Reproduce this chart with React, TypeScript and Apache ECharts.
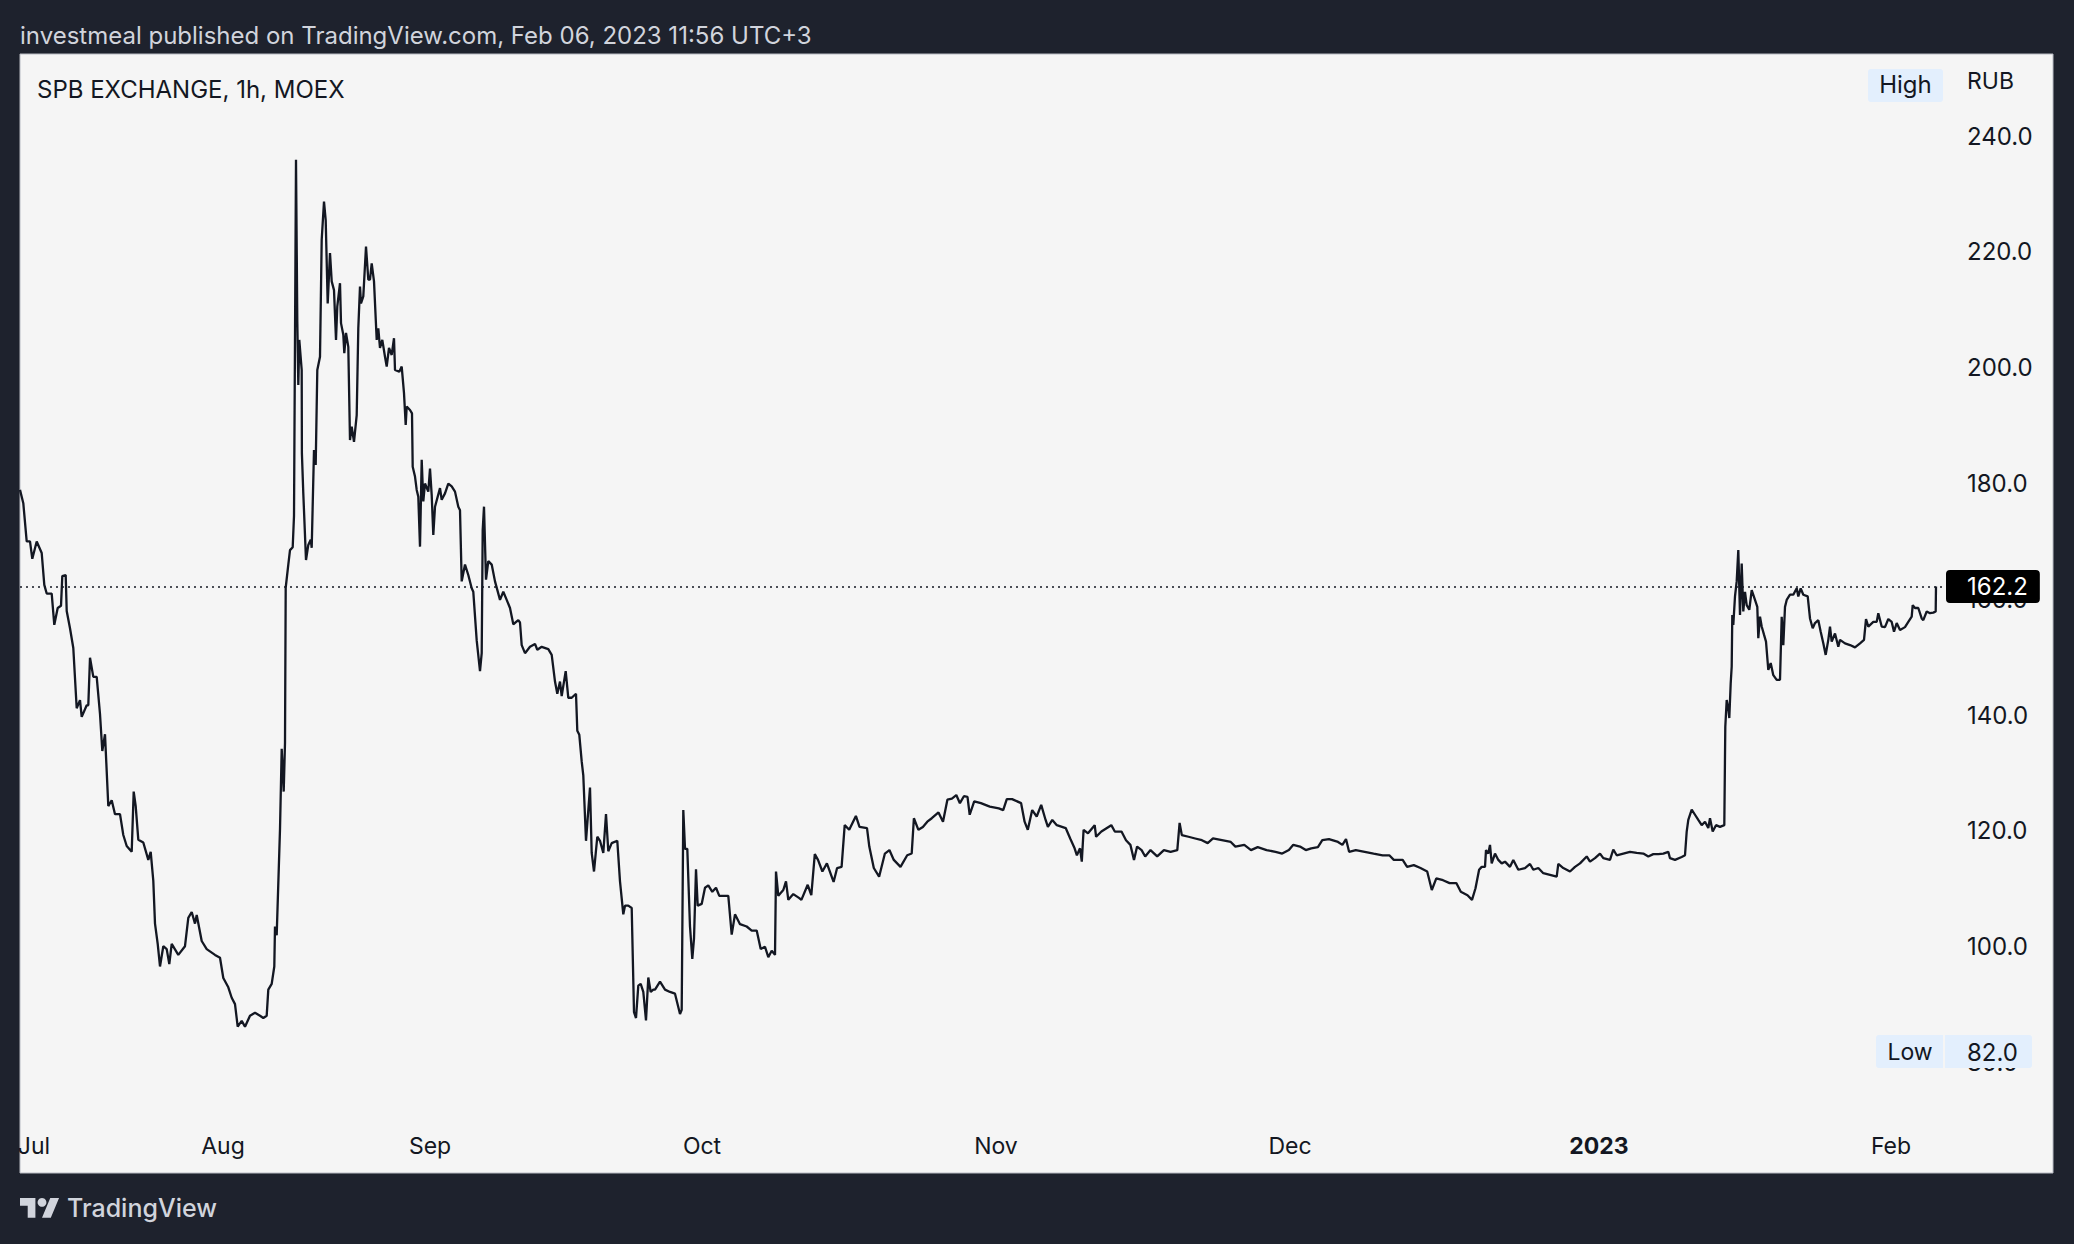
import React, { useEffect, useRef } from "react";
import * as echarts from "echarts";

// ---- data: [hour index, close price in RUB] ----
const JUL_PRICES: [number, number][] = [
  [0,178.9],[3.3,176.6],[6.7,170],[10,170],[12.3,167],[16.7,170],[21.7,168],[24.3,162.5],[26.7,161],[31.7,161],[34.3,155.6],[37.7,158.5],[41,158.9],[42.3,164],[45.7,164.2],[46.7,158],[50,155],[53.3,151.6],[56.7,141.2],[60,142.6],[61.7,139.7],[66.7,141.7],[68.3,141.7],[70,149.9],[73.3,146.6],[76.7,146.6],[80,140.2],[82.3,133.8],[85,136.7],[88.3,124.3],[91.7,125.3],[95,122.9],[100,122.9],[103.3,119.3],[106.7,117.4],[111.7,116.4],[113.7,126.8],[115.7,124.3],[118.3,118.5],[123.3,118],[128.3,115],[130.7,116.4],[133.3,111.4],[135,104],[137.7,100.5],[140,96.6],[143.3,100.1],[146.7,99.6],[149.3,97],[151.7,100.5],[158.3,98.6],[165,100.1],[168.3,105],[171.7,106],[175,104],[176.7,105.5],[181.7,101],[186.7,99.6],[195,98.6],[200,98.1]
];
const AUG_PRICES: [number, number][] = [
  [203.3,94.6],[208.3,93],[211.7,91.2],[215,90.1],[217.7,86.2],[221.7,87.2],[225,86.2],[230,88.1],[235,88.6],[240,88.1],[243.3,87.7],[246.7,88.1],[248.3,92.6],[251.7,93.6],[254.3,96.6],[255,103.5],[256.7,102],[260,120.3],[261.7,134.2],[263.7,126.8],[265,135.2],[265.7,162],[268.3,166],[270,168.5],[272.7,169],[274,174.4],[276,235.9],[277.3,208],[278.3,197],[279.3,204.8],[281.7,199.6],[281.9,185.2],[283.3,178.3],[286,166.8],[288.3,169.4],[290.7,170.3],[291.7,168.9],[294,185.8],[295.7,183.2],[297.3,199.6],[300,201.9],[301.7,222.1],[304,228.7],[305.7,225.5],[307.7,211.1],[310,219.8],[311.7,214.9],[314,213.4],[316,204.8],[317.3,210.6],[320,214.6],[321,207.7],[323.3,205.7],[324.3,202.5],[326,206],[328.3,203.6],[330,187.5],[331.7,189.8],[334,187.2],[336.7,191.8],[338.3,206.8],[340,214],[341,211.1],[343.3,212.3],[346,220.9],[348.3,215.2],[350,215.2],[351.7,218],[354,214.9],[356.7,204.8],[358.3,206.8],[360,203.4],[362.3,204.8],[365,201.9],[366.7,200.2],[369,203.4],[371.7,202.2],[374,205.1],[375,199.6],[379.3,199.3],[381.7,200.2],[384,195.6],[385.7,190.1],[386.7,193.3],[390,192.7],[392,192.1],[392.7,182.9],[395,181.2],[396.7,178.9],[398.3,177.7],[400,169.1],[401.7,184.1],[403.3,176.9],[405,180],[408.3,178.6]
];
const SEP_PRICES: [number, number][] = [
  [410,182.6],[411.7,178],[413.3,171.1],[415,176],[420,179.2],[421.7,177.2],[425,178.3],[428.3,180],[431.7,179.5],[435,178.6],[438.3,176],[440,175.4],[441.7,163.1],[445,166],[448.3,164.2],[451.7,161.9],[453.3,161.3],[456.7,152.9],[460,147.6],[461.7,150.7],[462.7,171.9],[464,176],[466,163.4],[468.3,166.6],[471.7,166],[475,163.1],[480,159.9],[483.3,161.3],[486.7,159.9],[490,158.5],[493.3,155.7],[498.3,156.4],[500,156],[501.7,152.1],[505,150.7],[510,151.8],[515,152.3],[517.3,151.3],[521.7,151.8],[528.3,151.4],[531.7,150.4],[535,145.8],[537.3,143.7],[540,145.8],[541.7,143.3],[544,145.8],[545.7,147.6],[548.3,143],[551.7,143],[556,143.7],[557.3,137.3],[559.3,136.6],[561.7,132],[563.3,129.6],[564.3,125.4],[566,118.3],[570,127.5],[571.7,116.2],[574,113],[577.3,119],[580,118.3],[583.3,116.2],[586,122.9],[588.3,116.5],[591.7,117.9],[597.3,118.3],[600,111.3],[603.3,105.6],[605,107.1],[608.3,107.1],[611.7,106.7],[614,88.7],[616,87.7],[618.3,93.3],[620.7,93.6],[623.3,92.2],[626,87.3],[628.3,94.7],[630.7,92.2],[633.3,92.6],[635,92.6],[640,94],[645,92.6],[650,92.2],[655,91.9],[660,88.4],[661.7,89.1],[663.3,123.6],[665,116.9],[667.3,116.9],[670,103.5],[672.3,97.9],[674,101.4],[676,113.4],[677.7,107.1],[681.7,107.4]
];
const OCT_PRICES: [number, number][] = [
  [685,110.2],[688.3,110.6],[692.3,109.5],[696,110.2],[699.3,108.8],[708.3,108.8],[711.7,102.1],[715,105.6],[720,103.9],[726.7,103.5],[731.7,102.8],[736.7,102.8],[740.7,99.6],[745,100],[748.3,98.2],[751.7,99.3],[755,98.6],[756,113],[758.3,108.8],[763.3,109.8],[766,111.3],[768.3,108.1],[773.3,109.1],[779.3,108.4],[781.4,108.1],[787.7,110.7],[791.3,108.9],[794.8,116],[798,115],[802.4,113],[806.9,114.4],[813.6,111.2],[817.1,113.6],[821.6,113.8],[824.7,121],[829.2,120.2],[835.9,122.6],[839.5,120.7],[847,120.5],[849.3,117.3],[853.8,113.6],[859.1,112.1],[864.9,116.1],[869.4,116.7],[873.8,115],[880.5,113.8],[887.2,115.8],[891.7,116.1],[893.9,122.2],[898.4,120.2],[902.9,120.7],[907.3,121.6],[911.8,122.2],[918.5,123.2],[923,121.6],[927.4,125.4],[931.9,125.6],[936.3,126.2],[939.9,124.8],[943.9,126],[947.5,125.9],[949.7,122.8],[954.2,125.1],[960.9,124.8],[969.8,124.2]
];
const NOV_PRICES: [number, number][] = [
  [978.8,123.9],[983.2,123.6],[986.8,125.5],[992.1,125.5],[1001.1,124.8],[1004.6,121.6],[1007.8,120.2],[1012.2,123.6],[1016.7,122.5],[1021.2,124.5],[1025.6,121.9],[1027.9,120.7],[1032.3,121.9],[1036.8,121],[1045.7,120.5],[1050.2,118.7],[1054.6,117],[1056.9,115.8],[1060,117],[1061.8,114.7],[1063.6,120.2],[1068,119.6],[1074.7,121],[1076.1,119],[1081.4,119.9],[1091.3,121],[1094.8,119.9],[1101.5,119.9],[1106,118.4],[1110.4,117.6],[1114,115],[1117.1,117.3],[1121.6,116.7],[1125.2,115.6],[1130.5,116.7],[1137.2,115.6],[1143.9,116.7],[1150.6,116.4],[1157.3,116.7],[1159.6,121.4],[1161.8,119.3],[1168.5,119],[1175.2,118.7],[1181.9,118.4],[1187.7,117.9],[1193,118.7],[1201.9,118.4],[1210.8,118.1],[1215.4,117.3],[1224.3,117.6],[1231,116.7],[1237.7,117.2],[1246.6,116.7],[1255.5,116.4],[1262.2,116.1],[1268.9,116.7]
];
const DEC_PRICES: [number, number][] = [
  [1273.3,117.6],[1280,117.3],[1285.8,116.7],[1291.2,117],[1297.9,117.2],[1302.3,118.4],[1309,118.6],[1318,118.1],[1322.4,117.6],[1326,118.6],[1329.1,116.4],[1335.8,116.7],[1344.7,116.4],[1353.6,116.1],[1362.6,115.8],[1369.3,115.8],[1373.8,115],[1382.7,115],[1387.1,113.8],[1393.8,114.1],[1400.5,113.6],[1407.2,113],[1411.8,109.8],[1416.3,111.8],[1423,111.5],[1429.6,111],[1436.3,111],[1440.8,109.5],[1447.5,108.9],[1452,108.1],[1455.5,110.1],[1459.1,113.3],[1461.7,113.8],[1465,113.8],[1466,116.7],[1468.3,116.1],[1470,117.6],[1471.7,114.4],[1475,116.1],[1478.3,115],[1481.7,114.4],[1485,114.7],[1490,113.8],[1493.3,115],[1498.3,113.3],[1505,113.6],[1510,114.3],[1513.3,113.3],[1518.3,113.6],[1523.3,112.7],[1530,112.4],[1536.7,112.1],[1538.3,114.3],[1543.3,113.6],[1550,113],[1555,113.8],[1560,114.4],[1566.7,115.6],[1570,114.7],[1575,115.3]
];
const JAN_PRICES: [number, number][] = [
  [1580,116.1],[1583.3,115.3],[1590,115],[1593.3,116.8],[1596.7,115.8],[1603.3,116.1],[1610,116.4],[1616.7,116.2],[1623.3,116.1],[1628.3,115.6],[1633.3,116],[1638.3,116],[1643.3,116.1],[1648.3,116.4],[1650,115.3],[1655,115],[1661.7,115.5],[1665,115.8],[1666.7,119.9],[1668.3,121.9],[1671.7,123.7],[1675,122.8],[1678.3,121.9],[1681.7,121],[1685,121.6],[1688.3,120.5],[1690,122.2],[1692.7,119.9],[1696,121],[1700,120.7],[1704.3,121],[1705.3,138],[1706.7,142.6],[1708.3,141.2],[1709.3,139.5],[1710.7,145.5],[1711.7,148.4],[1712.3,157.3],[1713.3,155.6],[1715,160.5],[1716.7,163.1],[1718.3,168.5],[1720,157.3],[1721.7,166.2],[1723.3,157.9],[1725,161.3],[1726.7,159],[1729.3,158.2],[1731.7,161.6],[1735,159.9],[1737.3,158.7],[1738.3,153.3],[1740,157],[1741.7,155.3],[1744,153.9],[1746,152.7],[1748.3,147.8],[1750.7,149],[1753.3,146.9],[1756.7,146.1],[1760,146.1],[1761.7,157],[1763.3,152.1],[1765,158.7],[1766.7,159.9],[1770,160.8],[1773.3,160.8],[1776.7,161.9],[1778.3,160.5],[1780.7,161.9],[1783.3,160.8],[1787.7,160.5],[1790,156.7],[1792.7,155],[1795,155.9],[1798.3,156.4],[1800.7,154.4],[1803.3,152.4],[1805.7,150.4],[1808.3,153],[1810,155.3],[1811.7,152.7],[1815,154.1],[1818.3,151.8],[1820,153],[1825,152.4],[1830,152.1],[1835,151.7],[1840,152.4],[1844,153],[1846,156.6],[1848.3,155.3],[1853.3,156.1],[1856.7,156.1],[1858.3,157.6],[1861.7,155.3],[1865,155.2],[1868.3,156.6]
];
const FEB_PRICES: [number, number][] = [
  [1871.7,156.1],[1874,154.4],[1876.7,155.9],[1880,154.7],[1885,155.2],[1888.3,156.1],[1891.7,157],[1892.7,159],[1895,158.5],[1898.3,158.5],[1901.7,156.7],[1903.3,156.4],[1906.7,157.9],[1910,157.6],[1913.3,157.7],[1915.7,157.9],[1916,162.2]
];

const MONTH_TICKS = [14, 203, 410, 682, 976, 1270, 1579, 1871];
const MONTH_LABELS = ["Jul", "Aug", "Sep", "Oct", "Nov", "Dec", "2023", "Feb"];
const PRICE_TICKS = [80, 100, 120, 140, 160, 180, 200, 220, 240];
const LOW_VALUE = 82.0;

const TITLE = "investmeal published on TradingView.com, Feb 06, 2023 11:56 UTC+3";
const SYMBOL = "SPB EXCHANGE, 1h, MOEX";

const SERIES = [
  ...JUL_PRICES, ...AUG_PRICES, ...SEP_PRICES, ...OCT_PRICES,
  ...NOV_PRICES, ...DEC_PRICES, ...JAN_PRICES, ...FEB_PRICES,
];
const LAST_PRICE = SERIES[SERIES.length - 1][1];

const FONT = "Inter, 'Noto Sans', sans-serif";
const INK = "#131722";
const BADGE = "#e3effd";

echarts.graphic.registerShape(
  "tvLogo",
  echarts.graphic.extendPath("M14 22H7V11H0V4h14v18zM28 22h-8l7.5-18h8L28 22z", {})
);

export default function App() {
  const ref = useRef<HTMLDivElement>(null);
  useEffect(() => {
    document.body.style.margin = "0";
    const chart = echarts.init(ref.current!, null, { renderer: "svg" });
    chart.setOption({
      animation: false,
      backgroundColor: "#1e222d",
      textStyle: { fontFamily: FONT },
      grid: { left: 20, top: 55, width: 1924, bottom: 123.5, containLabel: false },
      xAxis: {
        type: "value",
        min: 0,
        max: 1924,
        axisLine: { show: false },
        axisTick: { show: false },
        splitLine: { show: false },
        axisLabel: {
          customValues: MONTH_TICKS,
          margin: 14,
          fontSize: 23,
          color: INK,
          fontFamily: FONT,
          formatter: (v: number) => {
            const i = MONTH_TICKS.indexOf(v);
            const s = i >= 0 ? MONTH_LABELS[i] : "";
            return /^\d{4}$/.test(s) ? `{b|${s}}` : s;
          },
          rich: { b: { fontWeight: "bold", fontSize: 23, color: INK, fontFamily: FONT } },
        },
      },
      yAxis: {
        type: "value",
        position: "right",
        min: 70,
        max: 254,
        axisLine: { show: false },
        axisTick: { show: false },
        splitLine: { show: false },
        axisLabel: {
          customValues: PRICE_TICKS,
          margin: 23,
          fontSize: 24,
          color: INK,
          fontFamily: FONT,
          formatter: (v: number) => v.toFixed(1),
        },
      },
      series: [
        {
          type: "line",
          data: SERIES,
          showSymbol: false,
          lineStyle: { color: INK, width: 2.3 },
          z: 5,
          markLine: {
            silent: true,
            symbol: ["none", "none"],
            lineStyle: { color: INK, type: [2, 4], width: 1.5 },
            label: {
              show: true,
              position: "end",
              distance: 2,
              formatter: () => LAST_PRICE.toFixed(1),
              backgroundColor: "#000000",
              color: "#ffffff",
              fontSize: 24,
              fontFamily: FONT,
              lineHeight: 24,
              padding: [5, 12, 4, 21],
              borderRadius: 4,
            },
            data: [{ yAxis: LAST_PRICE }],
          },
        },
      ],
      graphic: [
        {
          type: "rect",
          z: -10,
          silent: true,
          shape: { x: 20, y: 54, width: 2033, height: 1119 },
          style: { fill: "#f5f5f5", stroke: "#b8bbc3", lineWidth: 1 },
        },
        {
          type: "text",
          x: 20,
          y: 35,
          style: { text: TITLE, fill: "#d1d4dc", fontSize: 24, fontFamily: FONT, verticalAlign: "middle" },
        },
        {
          type: "text",
          x: 37,
          y: 89,
          style: { text: SYMBOL, fill: INK, fontSize: 24, fontFamily: FONT, verticalAlign: "middle" },
        },
        {
          type: "rect",
          z: 100,
          shape: { x: 1868, y: 69, width: 75, height: 33, r: 3 },
          style: { fill: BADGE },
        },
        {
          type: "text",
          z: 101,
          x: 1905.5,
          y: 84,
          style: { text: "High", fill: INK, fontSize: 24, fontFamily: FONT, align: "center", verticalAlign: "middle" },
        },
        {
          type: "text",
          z: 101,
          x: 1967,
          y: 81,
          style: { text: "RUB", fill: INK, fontSize: 23, fontFamily: FONT, verticalAlign: "middle" },
        },
        {
          type: "rect",
          z: 100,
          shape: { x: 1876, y: 1035, width: 67, height: 33, r: [3, 0, 0, 3] },
          style: { fill: BADGE },
        },
        {
          type: "rect",
          z: 100,
          shape: { x: 1945, y: 1035, width: 87, height: 33, r: [0, 3, 3, 0] },
          style: { fill: BADGE },
        },
        {
          type: "text",
          z: 101,
          x: 1910,
          y: 1052,
          style: { text: "Low", fill: INK, fontSize: 23, fontFamily: FONT, align: "center", verticalAlign: "middle" },
        },
        {
          type: "text",
          z: 101,
          x: 1967,
          y: 1052,
          style: { text: LOW_VALUE.toFixed(1), fill: INK, fontSize: 24, fontFamily: FONT, verticalAlign: "middle" },
        },
        {
          type: "tvLogo",
          x: 20,
          y: 1193.6,
          scaleX: 1.1,
          scaleY: 1.1,
          style: { fill: "#d1d4dc" },
        },
        {
          type: "circle",
          shape: { cx: 20 + 20 * 1.1, cy: 1193.6 + 8 * 1.1, r: 4 * 1.1 },
          style: { fill: "#d1d4dc" },
        },
        {
          type: "text",
          x: 67,
          y: 1208,
          style: { text: "TradingView", fill: "#d1d4dc", fontSize: 25, fontWeight: 500, fontFamily: FONT, verticalAlign: "middle" },
        },
      ],
    });
    return () => chart.dispose();
  }, []);
  return (
    <div
      ref={ref}
      style={{ position: "absolute", left: 0, top: 0, width: 2074, height: 1244 }}
    />
  );
}
